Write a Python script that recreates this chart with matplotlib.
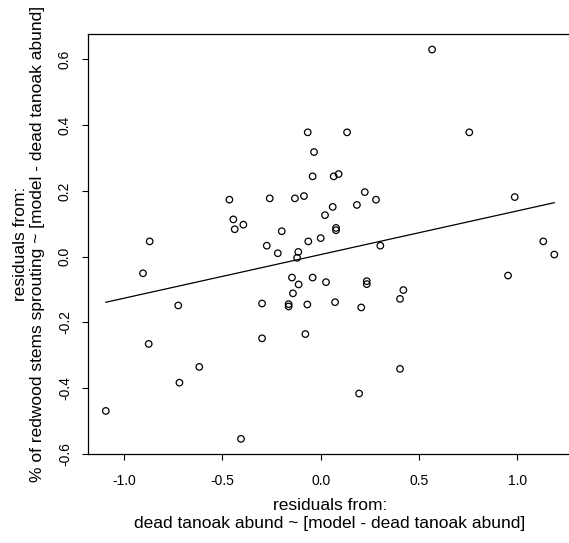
import matplotlib.pyplot as plt
import numpy as np

plt.rcParams['font.family'] = ['Liberation Sans', 'DejaVu Sans']

# partial residuals: dead tanoak abundance (x) vs % redwood stems sprouting (y)
resid_tanoak = [
    -0.066, -0.034, -0.041, -0.464, -0.259, -0.131, -0.085, -0.444, -0.393, -0.437,
    -0.198, -0.869, -0.063, 0.000, -0.274, -0.218, -0.114, -0.120, 0.566, 0.134,
    0.755, 0.066, 0.091, 0.224, 0.281, 0.184, 0.061, 0.022, 0.986, 0.078,
    0.078, 0.303, 1.131, 1.187, -0.903, -0.146, -0.041, -0.112, -0.141, -0.724,
    -0.298, -0.163, -0.163, -0.068, -0.874, -0.298, -0.078, -0.617, -0.718, -1.092,
    -0.405, 0.027, 0.234, 0.234, 0.952, 0.073, 0.206, 0.420, 0.403, 0.403,
    0.195,
]
resid_sprout = [
    0.378, 0.318, 0.244, 0.173, 0.177, 0.177, 0.184, 0.113, 0.097, 0.083,
    0.077, 0.046, 0.046, 0.056, 0.033, 0.010, 0.014, -0.004, 0.630, 0.378,
    0.378, 0.244, 0.251, 0.196, 0.173, 0.157, 0.151, 0.126, 0.181, 0.087,
    0.080, 0.033, 0.046, 0.006, -0.051, -0.064, -0.064, -0.085, -0.112, -0.149,
    -0.143, -0.145, -0.152, -0.146, -0.266, -0.249, -0.236, -0.336, -0.384, -0.470,
    -0.555, -0.078, -0.075, -0.084, -0.058, -0.139, -0.155, -0.102, -0.129, -0.342,
    -0.417,
]

# fitted line through the residuals
fit_intercept = 0.006
fit_slope = 0.133

x = np.array(resid_tanoak)
y = np.array(resid_sprout)

fig = plt.figure(figsize=(5.69, 5.43), dpi=100)
ax = fig.add_axes([87.9 / 569, 1 - 454.3 / 543, (572.2 - 87.9) / 569, (454.3 - 34.1) / 543])

ax.scatter(x, y, s=22, facecolors='none', edgecolors='black', linewidths=0.9)
xs = np.array([x.min(), x.max()])
ax.plot(xs, fit_intercept + fit_slope * xs, color='black', linewidth=0.9)

ax.set_xlim(-1.183, 1.278)
ax.set_ylim(-0.602, 0.677)

ax.set_xticks([-1.0, -0.5, 0.0, 0.5, 1.0])
ax.set_xticklabels(['-1.0', '-0.5', '0.0', '0.5', '1.0'])
ax.set_yticks([-0.6, -0.4, -0.2, 0.0, 0.2, 0.4, 0.6])
ax.set_yticklabels(['-0.6', '-0.4', '-0.2', '0.0', '0.2', '0.4', '0.6'],
                   rotation=90, va='center')

ax.tick_params(direction='out', length=4.5, width=0.8, labelsize=10, pad=10)
ax.tick_params(axis='y', pad=7)
for s in ax.spines.values():
    s.set_linewidth(0.9)

ax.set_xlabel("residuals from:\ndead tanoak abund ~ [model - dead tanoak abund]",
              fontsize=12.5, labelpad=7, linespacing=1.2)
ax.set_ylabel("residuals from:\n% of redwood stems sprouting ~ [model - dead tanoak abund]",
              fontsize=12.5, labelpad=9, linespacing=1.2)

fig.savefig('out.png', dpi=100)
